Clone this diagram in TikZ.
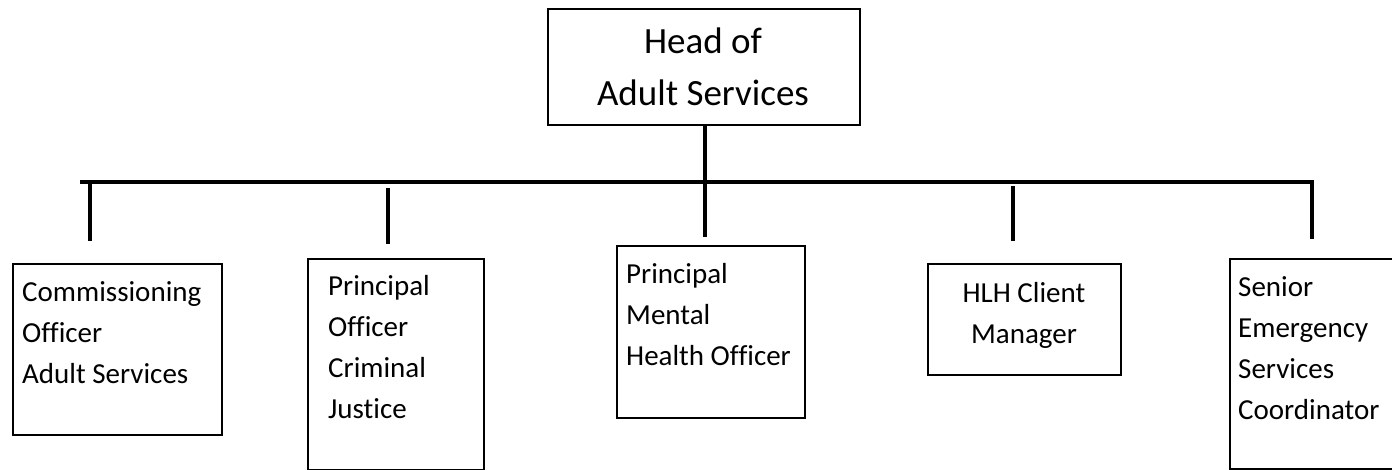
\documentclass[tikz,border=0pt]{standalone}
\usepackage{fontspec}
\setmainfont[Ligatures=CommonOff]{Carlito}
\begin{document}
\begin{tikzpicture}[x=1pt,y=-1pt,
  box/.style={draw, line width=1.6pt, inner sep=0pt, anchor=north west},
  lbl/.style={inner sep=0pt, align=left, font=\fontsize{29}{41}\selectfont},
  headlbl/.style={inner sep=0pt, align=center, font=\fontsize{37}{52}\selectfont},
  conn/.style={line width=4.8pt}]
\useasboundingbox (0,0) rectangle (1392,470);
\clip (0,0) rectangle (1392,470);
% boxes
\node[box, minimum width=312pt, minimum height=116pt] (head) at (547,8) {};
\node[box, minimum width=209pt, minimum height=171pt] (b1) at (12,263) {};
\node[box, minimum width=176pt, minimum height=211pt] (b2) at (307,258) {};
\node[box, minimum width=188pt, minimum height=172pt] (b3) at (616,245) {};
\node[box, minimum width=193pt, minimum height=111pt] (b4) at (927,263) {};
\node[box, minimum width=180pt, minimum height=210pt] (b5) at (1229,258) {};
% texts (anchor base = baseline of the last line)
\node[headlbl, anchor=base] (th) at (703,106) {Head of\\Adult Services};
\node[lbl, anchor=base west] (t1) at (22,383) {Commissioning\\Officer\\Adult Services};
\node[lbl, anchor=base west] (t2) at (328,418) {Principal\\Officer\\Criminal\\Justice};
\node[lbl, anchor=base west] (t3) at (626,365) {Principal\\Mental\\Health Officer};
\node[lbl, anchor=base, align=center] (t4) at (1024,343) {HLH Client\\Manager};
\node[lbl, anchor=base west] (t5) at (1238,419) {Senior\\Emergency\\Services\\Coordinator};
% connector coordinates
\coordinate (barL) at (80,182);
\coordinate (barR) at (1312,182);
\coordinate (d1t) at (90,182);   \coordinate (d1b) at (90,241);
\coordinate (d2t) at (388,188);  \coordinate (d2b) at (388,244);
\coordinate (d3b) at (705,237);
\coordinate (d4t) at (1013,186); \coordinate (d4b) at (1013,241);
\coordinate (d5b) at (1312,239);
% connectors
\draw[conn] (barL) -- (barR);
\draw[conn] (head.south -| d3b) -- (d3b);
\draw[conn] (d1t) -- (d1b);
\draw[conn] (d2t) -- (d2b);
\draw[conn] (d4t) -- (d4b);
\draw[conn] ([yshift=2.4pt]barR) -- (d5b);
\end{tikzpicture}
\end{document}
